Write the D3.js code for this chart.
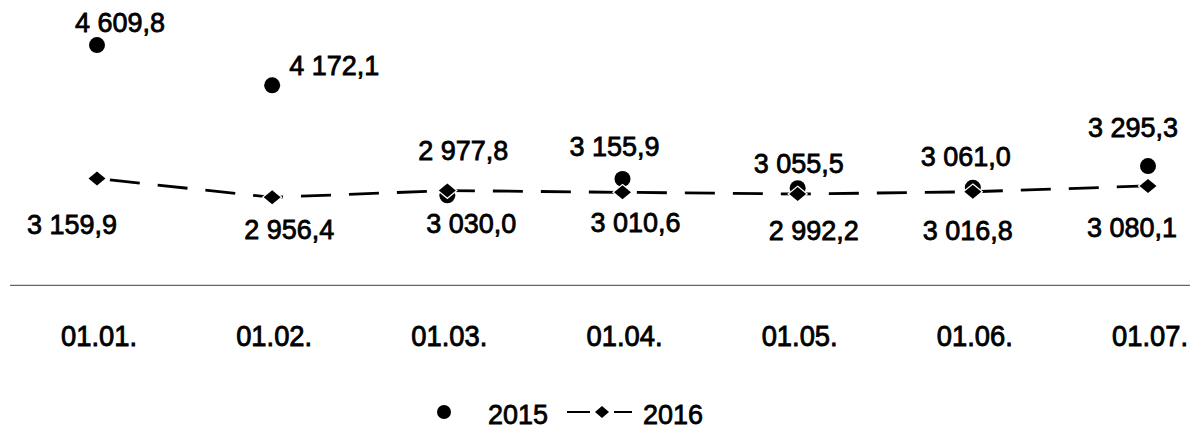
<!DOCTYPE html>
<html>
<head>
<meta charset="utf-8">
<script src="https://cdn.jsdelivr.net/npm/d3@7"></script>
<style>
  html, body { margin: 0; padding: 0; background: #fff; }
  svg { display: block; }
  text { font-family: "Liberation Sans", Arial, sans-serif; fill: #000; }
</style>
</head>
<body>
<svg id="chart" width="1197" height="430"></svg>
<script>
// ---- data ----
const categories = ["01.01.", "01.02.", "01.03.", "01.04.", "01.05.", "01.06.", "01.07."];
const values2015 = [4609.8, 4172.1, 2977.8, 3155.9, 3055.5, 3061.0, 3295.3];
const values2016 = [3159.9, 2956.4, 3030.0, 3010.6, 2992.2, 3016.8, 3080.1];
const seriesNames = ["2015", "2016"];

// ---- label placement (layout, offsets from the mark) ----
const labelOffsets2015 = [[23, -13], [62, -10], [16, -35], [-8, -23], [1, -15], [-7, -22], [-15, -29]];
const labelOffsets2016 = [[-25, 55], [17, 42], [24, 42], [13, 40], [16, 46], [-5, 48], [-16, 51]];

const svg = d3.select("#chart");

const x = d3.scalePoint().domain(categories).range([97, 1148]);
const y = d3.scaleLinear().domain([2000, 5000]).range([285.4, 9.1]);

const loc = d3.formatLocale({ decimal: ",", thousands: "\u00a0", grouping: [3], currency: ["", ""] });
const fmt = loc.format(",.1f");

// axis line (category axis)
svg.append("line")
  .attr("x1", 10).attr("x2", 1190)
  .attr("y1", y(2000)).attr("y2", y(2000))
  .attr("stroke", "#666").attr("stroke-width", 1.2);

// category labels
svg.append("g").selectAll("text")
  .data(categories)
  .join("text")
  .attr("x", d => x(d) + 2)
  .attr("y", 346)
  .attr("text-anchor", "middle")
  .attr("font-size", 29)
  .attr("textLength", 76)
  .attr("lengthAdjust", "spacingAndGlyphs")
  .attr("stroke", "#000").attr("stroke-width", 0.9)
  .text(d => d);

// 2016 dashed line
const line = d3.line().x((d, i) => x(categories[i])).y(d => y(d));
svg.append("path")
  .datum(values2016)
  .attr("d", line)
  .attr("fill", "none")
  .attr("stroke", "#000")
  .attr("stroke-width", 2.8)
  .attr("stroke-dasharray", "30 18")
  .attr("stroke-dashoffset", -13);

// 2015 circles
svg.append("g").selectAll("circle")
  .data(values2015)
  .join("circle")
  .attr("cx", (d, i) => x(categories[i]))
  .attr("cy", d => y(d))
  .attr("r", 8)
  .attr("fill", "#000");

// 2016 diamonds
const diamond = (cx, cy, rx, ry) => `M${cx},${cy - ry}L${cx + rx},${cy}L${cx},${cy + ry}L${cx - rx},${cy}Z`;
svg.append("g").selectAll("path")
  .data(values2016)
  .join("path")
  .attr("d", (d, i) => diamond(x(categories[i]), y(d), 8.5, 7))
  .attr("fill", "#000")
  .attr("stroke", "#fff")
  .attr("stroke-width", 2.5)
  .attr("paint-order", "stroke");

// value labels
function labels(vals, offs) {
  svg.append("g").selectAll("text")
    .data(vals)
    .join("text")
    .attr("x", (d, i) => x(categories[i]) + offs[i][0])
    .attr("y", (d, i) => y(d) + offs[i][1])
    .attr("text-anchor", "middle")
    .attr("font-size", 27)
    .attr("textLength", 90)
    .attr("lengthAdjust", "spacingAndGlyphs")
    .attr("stroke", "#000").attr("stroke-width", 0.8)
    .text(d => fmt(d));
}
labels(values2015, labelOffsets2015);
labels(values2016, labelOffsets2016);

// legend
const lg = svg.append("g");
lg.append("circle").attr("cx", 444).attr("cy", 412).attr("r", 7).attr("fill", "#000");
lg.append("text").attr("x", 488).attr("y", 424).attr("font-size", 28)
  .attr("textLength", 60).attr("lengthAdjust", "spacingAndGlyphs")
  .attr("stroke", "#000").attr("stroke-width", 0.8).text(seriesNames[0]);
lg.append("line").attr("x1", 567).attr("x2", 590).attr("y1", 412).attr("y2", 412)
  .attr("stroke", "#000").attr("stroke-width", 2);
lg.append("line").attr("x1", 614).attr("x2", 632).attr("y1", 412).attr("y2", 412)
  .attr("stroke", "#000").attr("stroke-width", 2);
lg.append("path").attr("d", diamond(602, 412, 7, 6)).attr("fill", "#000");
lg.append("text").attr("x", 643).attr("y", 424).attr("font-size", 28)
  .attr("textLength", 60).attr("lengthAdjust", "spacingAndGlyphs")
  .attr("stroke", "#000").attr("stroke-width", 0.8).text(seriesNames[1]);
</script>
</body>
</html>
